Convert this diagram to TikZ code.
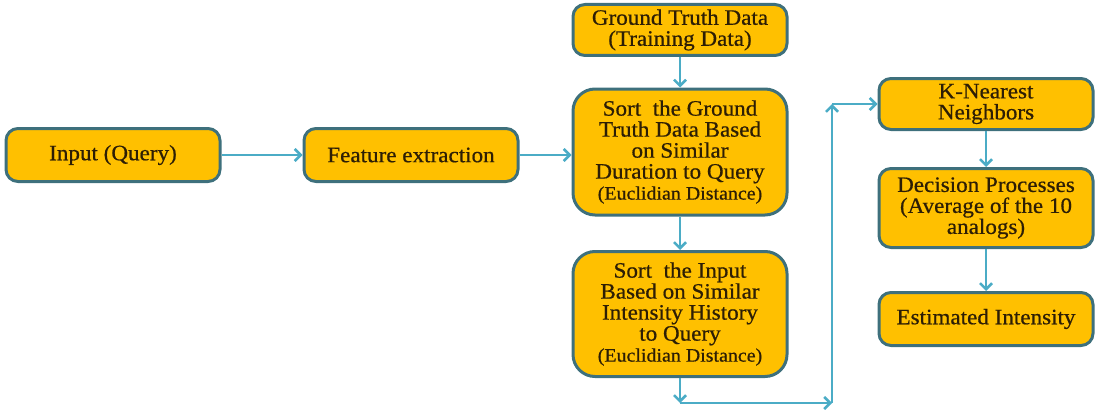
\documentclass[tikz,border=0pt]{standalone}
\usepackage{fontspec}
\setmainfont{Liberation Serif}[FakeStretch=1.05, FakeBold=0.6]
\usepackage{tikz}
\usetikzlibrary{arrows.meta}

\definecolor{boxfill}{RGB}{255,192,0}
\definecolor{boxline}{RGB}{62,112,124}
\definecolor{flowblue}{RGB}{75,172,198}
\definecolor{textbrown}{RGB}{45,30,5}
\newcommand{\eucl}{{\fontsize{19}{21}\selectfont (Euclidian Distance)}}

\begin{document}
\begin{tikzpicture}[x=1pt, y=-1pt,
    block/.style={draw=boxline, line width=3pt, fill=boxfill, rounded corners=12pt,
        minimum width=214pt, align=center, text=textbrown, inner sep=2pt,
        font=\fontsize{22}{21}\selectfont},
    tall/.style={block, rounded corners=22pt},
    flow/.style={draw=flowblue, line width=2.5pt, -{Straight Barb[length=6pt,width=12pt]}}]
    \useasboundingbox (0,0) rectangle (1097,412);

    % --- Query side ---
    \node[block, minimum height=53pt] (input) at (113,155) {Input (Query)};
    \node[block, minimum height=53pt] (feature) at (411,155) {Feature extraction};

    % --- Sorting ---
    \node[block, minimum height=51pt] (gtdata) at (680,30) {Ground Truth Data\\(Training Data)};
    \node[tall, minimum height=126pt] (sortgt) at (680,152)
        {Sort~ the Ground\\Truth Data Based\\on Similar\\Duration to Query\\\eucl};
    \node[tall, minimum height=125pt] (sortin) at (680,314)
        {Sort~ the Input\\Based on Similar\\Intensity History\\to Query\\\eucl};

    % --- Decision ---
    \node[block, minimum height=51pt] (knn) at (986,104) {K-Nearest\\Neighbors};
    \node[block, minimum height=79pt] (decision) at (986,208)
        {Decision Processes\\(Average of the 10\\analogs)};
    \node[block, minimum height=53pt] (estimate) at (986,319) {Estimated Intensity};

    % bends of the long connector
    \coordinate (down) at (680,403);
    \coordinate (corner) at (832,403);
    \coordinate (top) at (832,104);

    % --- Connectors ---
    \draw[flow] (input) -- (feature);
    \draw[flow] (feature) -- (feature -| sortgt.west);
    \draw[flow] (gtdata) -- (sortgt);
    \draw[flow] (sortgt) -- (sortin);
    \draw[flow] (sortin) -- (down);
    \draw[flow] (down) -- (corner);
    \draw[flow] (corner) -- (top);
    \draw[flow] (top) -- (knn);
    \draw[flow] (knn) -- (decision);
    \draw[flow] (decision) -- (estimate);
\end{tikzpicture}
\end{document}
